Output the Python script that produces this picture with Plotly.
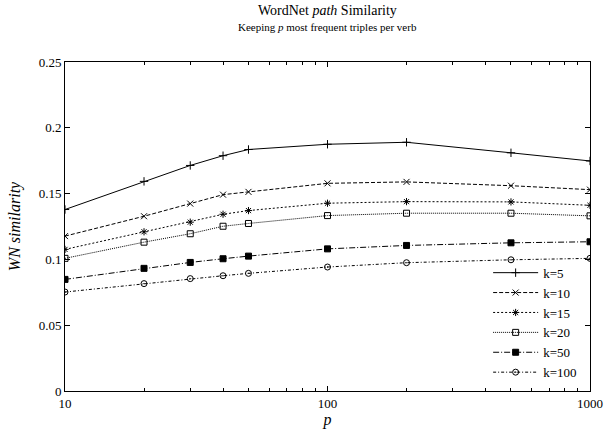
import plotly.graph_objects as go

p_values = [10, 20, 30, 40, 50, 100, 200, 500, 1000]
k5 = [0.1379, 0.1593, 0.1714, 0.1788, 0.1835, 0.1875, 0.1890, 0.1810, 0.1748]
k10 = [0.1177, 0.1328, 0.1424, 0.1492, 0.1513, 0.1578, 0.1589, 0.1560, 0.1530]
k15 = [0.1076, 0.1210, 0.1283, 0.1343, 0.1371, 0.1427, 0.1439, 0.1437, 0.1411]
k20 = [0.1008, 0.1131, 0.1195, 0.1252, 0.1273, 0.1333, 0.1351, 0.1351, 0.1331]
k50 = [0.0848, 0.0932, 0.0977, 0.1005, 0.1025, 0.1080, 0.1106, 0.1126, 0.1134]
k100 = [0.0752, 0.0816, 0.0854, 0.0876, 0.0894, 0.0942, 0.0975, 0.0997, 0.1008]

series_names = ["k=5", "k=10", "k=15", "k=20", "k=50", "k=100"]
series_values = [k5, k10, k15, k20, k50, k100]
y_ticks = [0, 0.05, 0.1, 0.15, 0.2, 0.25]
y_ticklabels = ["0", "0.05", "0.1", "0.15", "0.2", "0.25"]
x_ticks = [10, 100, 1000]
x_ticklabels = ["10", "100", "1000"]

styles = [
    dict(dash="solid", symbol="cross-thin-open", size=6),
    dict(dash="4px,2px", symbol="x-thin-open", size=6),
    dict(dash="2px,2px", symbol="asterisk-open", size=6),
    dict(dash="1px,1px", symbol="square-open", size=6),
    dict(dash="6px,2px,1px,2px", symbol="square", size=6),
    dict(dash="3px,2px,1px,2px", symbol="circle-open-dot", size=6),
]

FONT = "Liberation Serif"

fig = go.Figure()
for name, vals, st in zip(series_names, series_values, styles):
    fig.add_trace(go.Scatter(
        x=p_values, y=vals, name=name, mode="lines+markers",
        line=dict(color="black", width=1, dash=st["dash"]),
        marker=dict(symbol=st["symbol"], size=st["size"], color="black",
                    line=dict(color="black", width=1)),
    ))

minor_vals = [v * m for m in (10, 100) for v in range(2, 10)]

fig.update_layout(
    width=615, height=438,
    margin=dict(l=65, r=16, t=62, b=46),
    paper_bgcolor="white", plot_bgcolor="white",
    font=dict(family=FONT, size=13, color="black"),
    showlegend=True,
    legend=dict(x=0.985, y=0.01, xanchor="right", yanchor="bottom",
                bgcolor="rgba(0,0,0,0)", font=dict(size=13, family=FONT),
                tracegroupgap=0, itemwidth=45),
    annotations=[
        dict(text="WordNet <i>path</i> Similarity", x=0.5, y=1.0, xref="paper", yref="paper",
             xanchor="center", yanchor="bottom", yshift=42, showarrow=False,
             font=dict(size=14, family=FONT)),
        dict(text="Keeping <i>p</i> most frequent triples per verb", x=0.5, y=1.0,
             xref="paper", yref="paper", xanchor="center", yanchor="bottom", yshift=27,
             showarrow=False, font=dict(size=11, family=FONT)),
    ],
)

fig.update_xaxes(
    type="log", range=[1, 3], tickvals=x_ticks, ticktext=x_ticklabels,
    ticks="inside", ticklen=5, tickwidth=1, tickcolor="black",
    showline=True, linecolor="black", linewidth=1, mirror="allticks",
    showgrid=False, zeroline=False,
    minor=dict(tickvals=minor_vals, ticks="inside", ticklen=3, tickcolor="black", showgrid=False),
    title=dict(text="<i>p</i>", font=dict(size=16, family=FONT), standoff=4),
    tickfont=dict(size=13, family=FONT),
)
fig.update_yaxes(
    range=[0, 0.25], tickvals=y_ticks, ticktext=y_ticklabels,
    ticks="inside", ticklen=5, tickwidth=1, tickcolor="black",
    showline=True, linecolor="black", linewidth=1, mirror="allticks",
    showgrid=False, zeroline=False,
    title=dict(text="<i>WN similarity</i>", font=dict(size=16, family=FONT), standoff=14),
    tickfont=dict(size=13, family=FONT),
)

fig.write_html("out.html", config={"displayModeBar": False},
               post_script="document.body.style.margin='0';")
